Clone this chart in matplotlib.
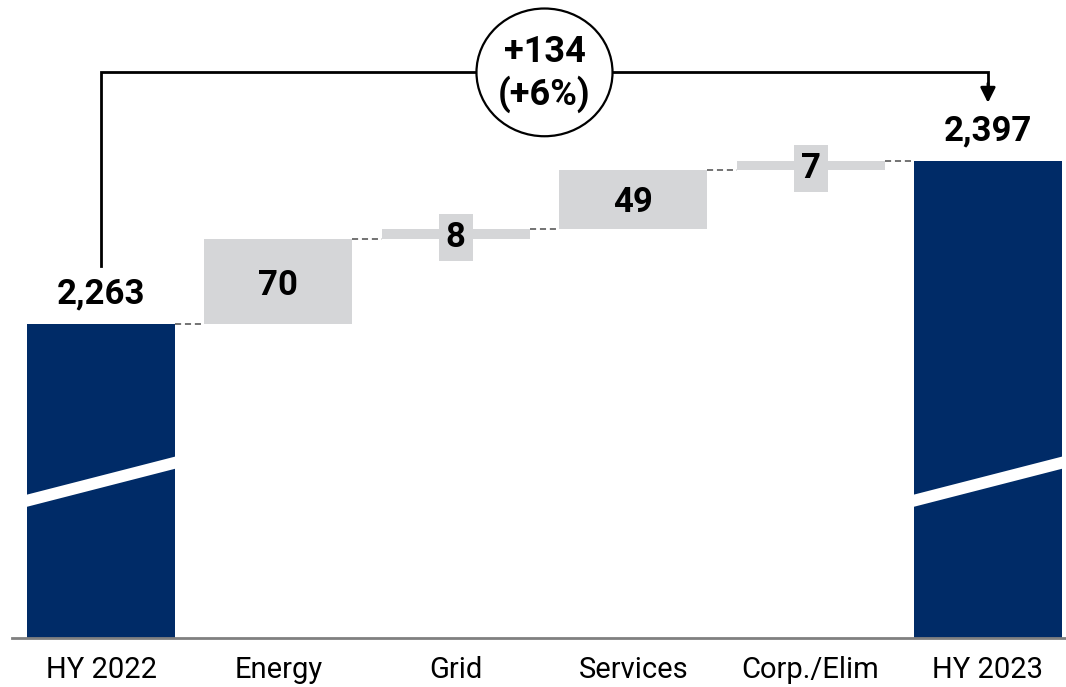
import matplotlib.pyplot as plt
from matplotlib.patches import Ellipse, Polygon

# data
categories = ["HY 2022", "Energy", "Grid", "Services", "Corp./Elim", "HY 2023"]
start_total = 2263
deltas = [70, 8, 49, 7]
end_total = 2397
change_label = "+134\n(+6%)"

NAVY = "#002B67"
GREY = "#D5D6D8"
AXIS_FLOOR = 2005  # broken axis, bars start here

plt.rcParams["font.family"] = ["Roboto", "DejaVu Sans"]

fig = plt.figure(figsize=(10.66, 6.87), dpi=100)
ax = fig.add_axes([12 / 1066, 1 - 638 / 687, 1 - 12 / 1066, 638 / 687])
ax.set_xlim(-0.502, 5.44)
ax.set_ylim(AXIS_FLOOR, AXIS_FLOOR + 524.5)
width = 0.835

# totals
totals_x = [0, 5]
totals_v = [start_total, end_total]
ax.bar(totals_x, [v - AXIS_FLOOR for v in totals_v], bottom=AXIS_FLOOR,
       width=width, color=NAVY, zorder=2)

# deltas
level = start_total
bottoms = []
for d in deltas:
    bottoms.append(level)
    level += d
delta_x = list(range(1, 1 + len(deltas)))
ax.bar(delta_x, deltas, bottom=bottoms, width=width, color=GREY, zorder=2)

# dashed connectors
tops = [start_total] + [b + d for b, d in zip(bottoms, deltas)]
for i, y in enumerate(tops):
    ax.plot([i + width / 2, i + 1 - width / 2], [y, y], color="#4d4d4d",
            lw=1.1, ls=(0, (4, 2.5)), zorder=1)

# labels on totals
for x, v in zip(totals_x, totals_v):
    ax.annotate(f"{v:,}", (x, v), xytext=(0, 10), textcoords="offset points",
                ha="center", va="bottom", fontsize=25, fontweight="bold")

# labels on deltas
for x, b, d in zip(delta_x, bottoms, deltas):
    kw = {}
    if d < 20:
        kw["bbox"] = dict(boxstyle="square,pad=0.2", fc=GREY, ec="none")
    ax.text(x, b + d / 2, f"{d}", ha="center", va="center_baseline",
            fontsize=25, fontweight="bold", zorder=3, **kw)

# axis-break slashes
for x in totals_x:
    x0, x1 = x - width / 2 - 0.01, x + width / 2 + 0.01
    slash = Polygon([(x0, 2112.5), (x1, 2144.5), (x1, 2154.5), (x0, 2122.5)],
                    closed=True, fc="white", ec="none", zorder=3)
    ax.add_patch(slash)

# bracket with change bubble
bracket_y = 2470
ax.plot([0, 0, 5, 5], [start_total + 48, bracket_y, bracket_y, end_total + 62],
        color="black", lw=2, zorder=4, solid_joinstyle="miter")
ax.annotate("", xy=(5, end_total + 48), xytext=(5, end_total + 64),
            arrowprops=dict(arrowstyle="-|>,head_width=0.45,head_length=0.9",
                            color="black", lw=2, shrinkA=0, shrinkB=0), zorder=4)
ax.add_patch(Ellipse((2.5, bracket_y), 0.767, 105, fc="white", ec="black",
                     lw=1.6, zorder=5))
ax.text(2.5, bracket_y - 1, change_label, ha="center", va="center",
        fontsize=26, fontweight="bold", linespacing=1.2, zorder=6)

# x axis
ax.set_xticks(range(len(categories)))
ax.set_xticklabels(categories, fontsize=21)
ax.tick_params(axis="x", length=0, pad=13)
ax.set_yticks([])
for s in ["top", "right", "left"]:
    ax.spines[s].set_visible(False)
ax.spines["bottom"].set_color("#808080")
ax.spines["bottom"].set_linewidth(2)

fig.savefig("out.png", dpi=100, facecolor="white")
